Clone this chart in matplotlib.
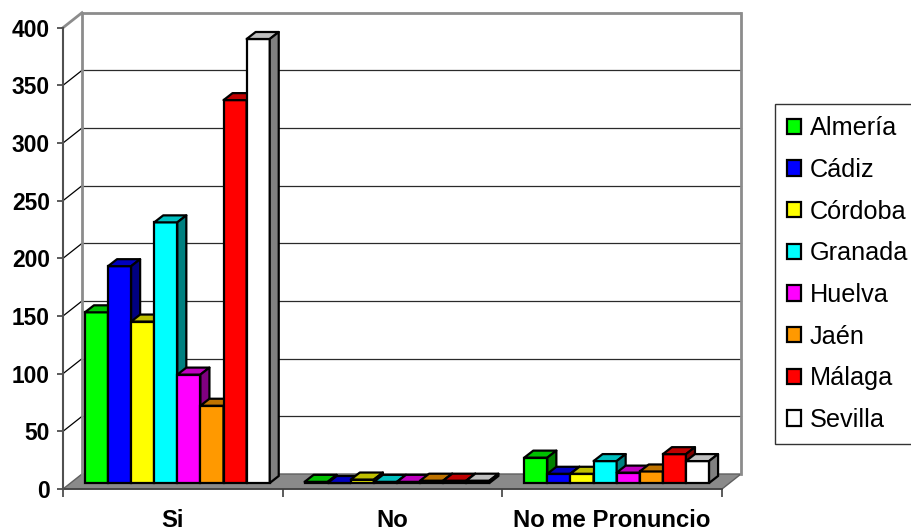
import matplotlib
matplotlib.use("Agg")
import matplotlib.pyplot as plt
from matplotlib.patches import Polygon, Patch
from matplotlib.transforms import offset_copy
from matplotlib.colors import to_rgb
import numpy as np

# ---- data ----
categories = ["Si", "No", "No me Pronuncio"]
provinces = ["Almería", "Cádiz", "Córdoba", "Granada", "Huelva", "Jaén", "Málaga", "Sevilla"]
colors = ["#00FF00", "#0000FF", "#FFFF00", "#00FFFF", "#FF00FF", "#FF9900", "#FF0000", "#FFFFFF"]
values = {
    "Almería": [148, 1, 22],
    "Cádiz":   [188, 0, 8],
    "Córdoba": [140, 3, 8],
    "Granada": [226, 1, 19],
    "Huelva":  [94, 1, 9],
    "Jaén":    [67, 2, 10],
    "Málaga":  [332, 2, 25],
    "Sevilla": [385, 2, 19],
}
yticks = [0, 50, 100, 150, 200, 250, 300, 350, 400]

plt.rcParams['font.family'] = ['Liberation Sans', 'DejaVu Sans']

W, H, DPI = 912, 532, 100
fig = plt.figure(figsize=(W / DPI, H / DPI), dpi=DPI)
fig.patch.set_facecolor("white")
ax = fig.add_axes([63 / W, (H - 489) / H, 659 / W, (489 - 27.7) / H])
ax.set_xlim(-0.5, 2.5)
ax.set_ylim(0, 400)
ax.patch.set_visible(False)

# pixel -> data conversions
p0 = ax.transData.transform((0, 0))
p1 = ax.transData.transform((1, 1))
ppx = p1[0] - p0[0]
ppy = p1[1] - p0[1]
DX = 19 / ppx       # chart depth
DY = 15 / ppy
BDX = 9 / ppx       # bar depth
BDY = 7 / ppy

# floor
floor = Polygon([(-0.5, 0), (2.5, 0), (2.5 + DX, DY), (-0.5 + DX, DY)], closed=True,
                facecolor="#8a8a8a", edgecolor="#606060", lw=1, zorder=0.5, clip_on=False)
ax.add_patch(floor)

# back wall gridlines and side wall
for t in yticks[1:-1]:
    ax.plot([-0.5 + DX, 2.5 + DX], [t + DY, t + DY], color="#2a2a2a", lw=0.9, zorder=0.6, clip_on=False)
    ax.plot([-0.5, -0.5 + DX], [t, t + DY], color="#000000", lw=0.9, zorder=0.6, clip_on=False)
wall_c = "#8c8c8c"
ax.plot([-0.5 + DX, 2.5 + DX], [400 + DY, 400 + DY], color=wall_c, lw=2, zorder=0.7, clip_on=False, solid_capstyle="butt")
ax.plot([-0.5, -0.5 + DX], [400, 400 + DY], color=wall_c, lw=2, zorder=0.7, clip_on=False)
ax.plot([-0.5 + DX, -0.5 + DX], [DY, 400 + DY], color=wall_c, lw=2, zorder=0.7, clip_on=False)
ax.plot([2.5 + DX, 2.5 + DX], [DY, 400 + DY], color=wall_c, lw=2, zorder=0.7, clip_on=False)

# bars
bar_tr = offset_copy(ax.transData, fig=fig, x=4.5, y=6, units="dots")
n = len(provinces)
bw = 23.1 / ppx
x = np.arange(len(categories))
z = 2.0
for ci in range(len(categories)):
    for i, (prov, col) in enumerate(zip(provinces, colors)):
        v = values[prov][ci]
        x0 = x[ci] + (i - n / 2) * bw
        rgb = np.array(to_rgb(col))
        ax.bar([x0], [v], width=bw, align="edge", bottom=0, color=col, edgecolor="black",
               lw=1.6, transform=bar_tr, zorder=z, clip_on=False)
        top = Polygon([(x0, v), (x0 + bw, v), (x0 + bw + BDX, v + BDY), (x0 + BDX, v + BDY)],
                      closed=True, facecolor=rgb * 0.75, edgecolor="black", lw=1.6,
                      transform=bar_tr, zorder=z + 0.01, clip_on=False, joinstyle="round")
        side = Polygon([(x0 + bw, 0), (x0 + bw + BDX, BDY), (x0 + bw + BDX, v + BDY), (x0 + bw, v)],
                       closed=True, facecolor=rgb * 0.5, edgecolor="black", lw=1.6,
                       transform=bar_tr, zorder=z + 0.01, clip_on=False, joinstyle="round")
        ax.add_patch(top)
        ax.add_patch(side)
        z += 0.1

# axes styling
for s in ["top", "right"]:
    ax.spines[s].set_visible(False)
ax.spines["left"].set_color("#505050")
ax.spines["left"].set_linewidth(1.5)
ax.spines["bottom"].set_color("#404040")
ax.spines["bottom"].set_linewidth(1.2)
ax.spines["left"].set_zorder(5)

ax.set_yticks(yticks)
ax.set_yticklabels([str(t) for t in yticks], fontsize=16.4, fontweight="bold")
ax.tick_params(axis="y", length=4.5, width=1.2, color="#404040", pad=5)

ax.set_xticks(x)
ax.set_xticklabels(categories, fontsize=17.2, fontweight="bold")
ax.set_xticks([-0.5, 0.5, 1.5, 2.5], minor=True)
ax.tick_params(axis="x", which="major", length=0, pad=14.5)
ax.tick_params(axis="x", which="minor", length=6, width=1.2, color="#404040")

# legend
handles = [Patch(facecolor=c, edgecolor="black", lw=1.6) for c in colors]
leg = fig.legend(handles, provinces, loc="upper left",
                 bbox_to_anchor=(775 / W, 1 - 104 / H), bbox_transform=fig.transFigure,
                 fontsize=18.2, frameon=True, fancybox=False, borderaxespad=0,
                 handlelength=0.56, handleheight=0.56, handletextpad=0.33,
                 labelspacing=0.7, borderpad=0.48)
leg.get_frame().set_edgecolor("black")
leg.get_frame().set_linewidth(1.0)

fig.savefig("out.png", dpi=DPI, facecolor="white")
